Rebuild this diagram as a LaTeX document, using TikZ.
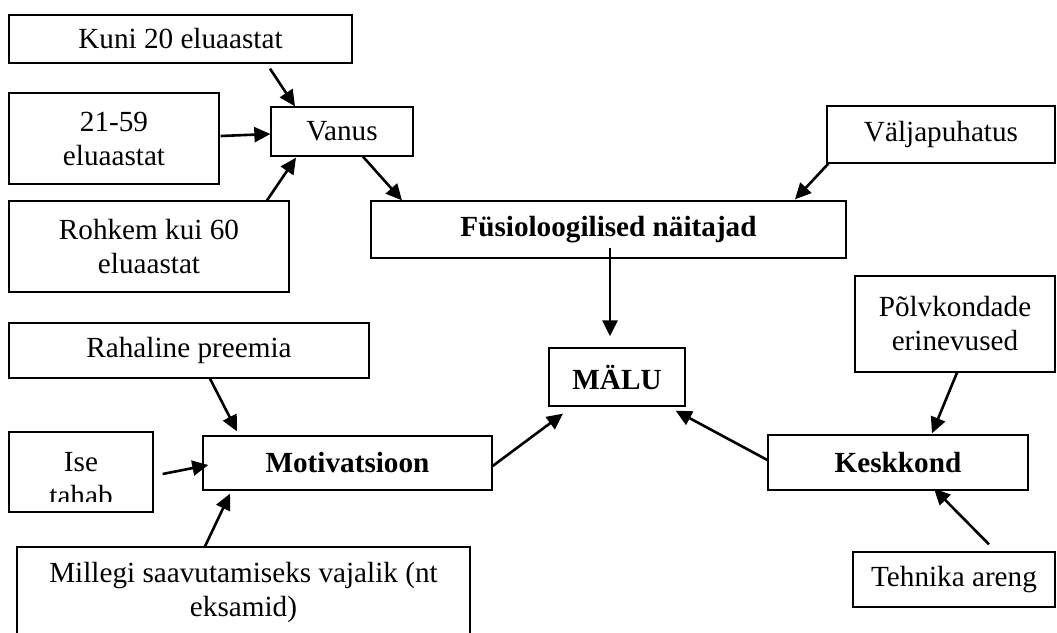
\documentclass[tikz,border=0pt]{standalone}
\usepackage{fontspec}
\setmainfont{Liberation Serif}
\usetikzlibrary{arrows.meta,calc}

\tikzset{
	box/.style={draw,line width=0.65pt,inner sep=0pt,align=center,font=\fontsize{14.6}{17}\selectfont},
	bbox/.style={box,font=\fontsize{14.6}{17}\selectfont\bfseries},
	link/.style={-{Triangle[length=8pt,width=7.5pt]},line width=1.3pt},
}

\begin{document}
\begin{tikzpicture}[x=0.5pt,y=-0.5pt]
	\clip (0,0) rectangle (1057,633);
	
	% Vanus
	\node[box,minimum width=171.5pt,minimum height=24pt] (kuni) at (180.5,39) {Kuni 20 eluaastat};
	\node[box,minimum width=105pt,minimum height=45.5pt] (keskiga) at (114,138.5) {21-59\\eluaastat};
	\node[box,minimum width=140pt,minimum height=45.5pt] (rohkem) at (149,246.5) {Rohkem kui 60\\eluaastat};
	\node[box,minimum width=71pt,minimum height=24.5pt] (vanus) at (342,131.5) {Vanus};
	
	% Fysioloogia
	\node[box,minimum width=114pt,minimum height=28.5pt] (valja) at (941,134.5) {Väljapuhatus};
	\node[bbox,minimum width=237.5pt,minimum height=28.5pt] (fys) at (608.5,229.5) {Füsioloogilised näitajad};
	
	% Malu
	\node[bbox,minimum width=68pt,minimum height=29pt] (malu) at (617,377) {MÄLU};
	
	% Keskkond
	\node[box,minimum width=100pt,minimum height=48pt] (polv) at (955,324) {Põlvkondade\\erinevused};
	\node[bbox,minimum width=130pt,minimum height=27.5pt] (kesk) at (898,462.5) {Keskkond};
	\node[box,minimum width=101pt,minimum height=27.5pt] (tehnika) at (954,579.5) {Tehnika areng};
	
	% Motivatsioon
	\node[box,minimum width=180pt,minimum height=27.5pt] (raha) at (189,350.5) {Rahaline preemia};
	\node[box,minimum width=72pt,minimum height=40pt] (ise) at (81,472) {};
	\begin{scope}
		\clip (9,432) rectangle (153,501);
		\node[box,draw=none] (isetekst) at (81,479) {Ise\\tahab};
	\end{scope}
	\node[bbox,minimum width=144.5pt,minimum height=27pt] (motiv) at (347.5,463) {Motivatsioon};
	\node[box,minimum width=226.5pt,minimum height=45.5pt] (millegi) at (243.5,592.5) {Millegi saavutamiseks vajalik (nt\\eksamid)};
	
	% Nooled
	\draw[link] ($(kuni.south)+(89.5,5)$) -- ($(vanus.north)+(-47,0)$);
	\draw[link] ($(keskiga.east)+(1,-2.5)$) -- ($(vanus.west)+(0,2.5)$);
	\draw[link] ($(rohkem.north)+(118,0)$) -- ($(vanus.south)+(-46,1)$);
	\draw[link] ($(vanus.south)+(21,0)$) -- ($(fys.north)+(-206.5,0)$);
	\draw[link] ($(valja.south west)+(2,0)$) -- ($(fys.north)+(186.5,-1)$);
	\draw[link] ($(fys.south)+(1.5,-11)$) -- ($(malu.north)+(-7,-11)$);
	\draw[link] ($(motiv.east)+(0,3)$) -- ($(malu.south)+(-54,7)$);
	\draw[link] ($(kesk.west)+(0,-2.5)$) -- ($(malu.south east)+(-10,4)$);
	\draw[link] ($(polv.south)+(2,0)$) -- ($(kesk.north)+(34,-1)$);
	\draw[link] ($(tehnika.north)+(35,-7)$) -- ($(kesk.south)+(36,-2)$);
	\draw[link] ($(raha.south)+(21,0)$) -- ($(motiv.north)+(-110.5,-4)$);
	\draw[link] ($(ise.east)+(9,2)$) -- ($(motiv.west)+(6,2)$);
	\draw[link] ($(millegi.north)+(-38.5,0)$) -- ($(motiv.south)+(-117.5,3)$);
\end{tikzpicture}
\end{document}
